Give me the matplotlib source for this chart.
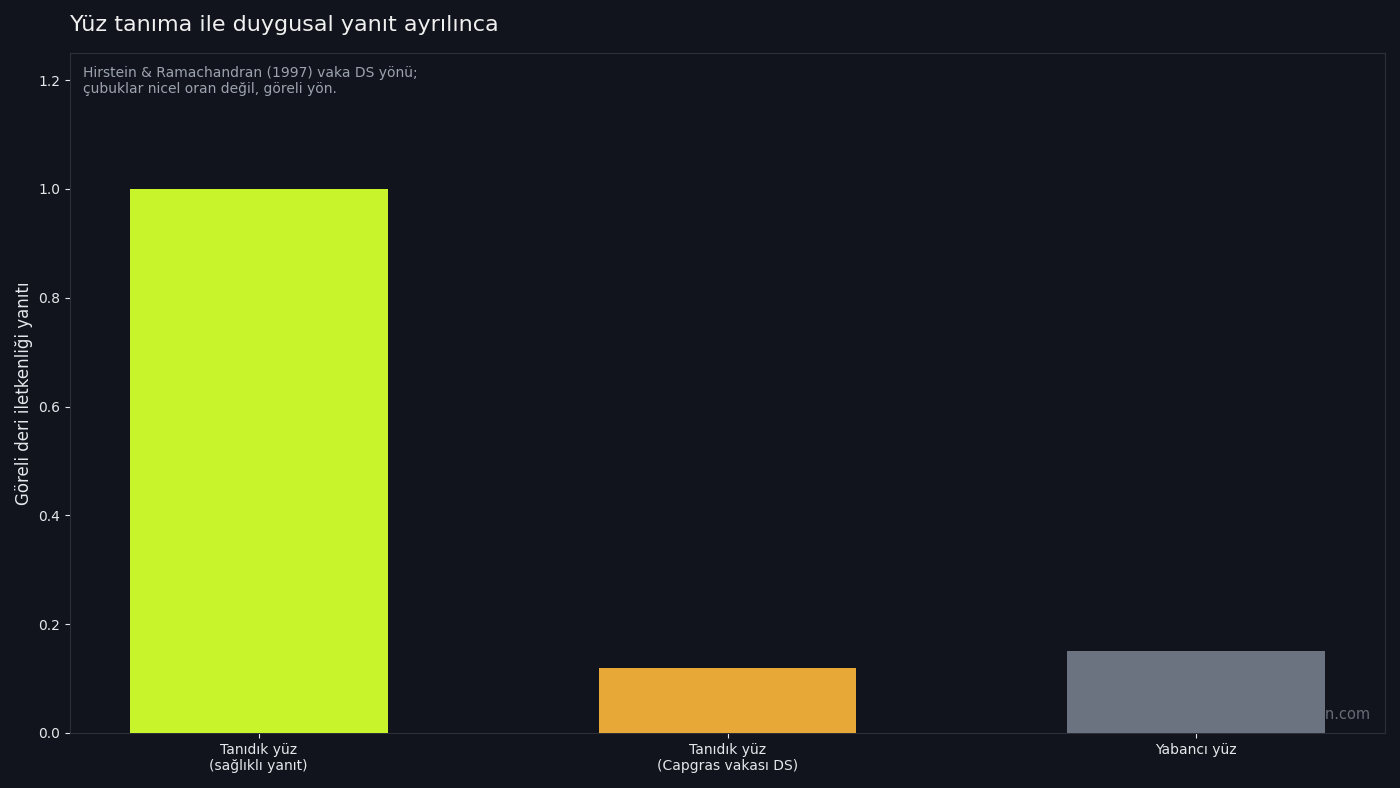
import matplotlib
matplotlib.use("Agg")
import matplotlib.pyplot as plt

categories = ["Tanıdık yüz\n(sağlıklı yanıt)", "Tanıdık yüz\n(Capgras vakası DS)", "Yabancı yüz"]
values = [1.0, 0.12, 0.15]
colors = ["#c8f42c", "#e8a838", "#6b7280"]

bg = "#11141c"
fig = plt.figure(figsize=(14, 7.88), dpi=100, facecolor=bg)
ax = fig.add_axes([70/1400, 1-733/788, 1315/1400, 680/788])
ax.set_facecolor(bg)

ax.bar(range(len(values)), values, width=0.55, color=colors, zorder=3)
ax.set_ylim(0, 1.25)
ax.set_xticks(range(len(values)))
ax.set_xticklabels(categories)
ax.set_yticks([0, 0.2, 0.4, 0.6, 0.8, 1.0, 1.2])
ax.tick_params(colors="#e5e7eb", labelsize=10)
for s in ax.spines.values():
    s.set_color("#2b2f3a")

ax.set_ylabel("Göreli deri iletkenliği yanıtı", color="#e5e7eb", fontsize=12)
ax.set_title("Yüz tanıma ile duygusal yanıt ayrılınca", loc="left", color="#f0f0f0",
             fontsize=16, pad=16)
ax.text(0.01, 0.981, "Hirstein & Ramachandran (1997) vaka DS yönü;\nçubuklar nicel oran değil, göreli yön.",
        transform=ax.transAxes, ha="left", va="top", color="#9ca3af", fontsize=10)
ax.text(0.989, 0.016, "on.com", transform=ax.transAxes, ha="right", va="bottom",
        color="#666b76", fontsize=10.5, zorder=1)

fig.savefig("out.png", dpi=100, facecolor=bg)
